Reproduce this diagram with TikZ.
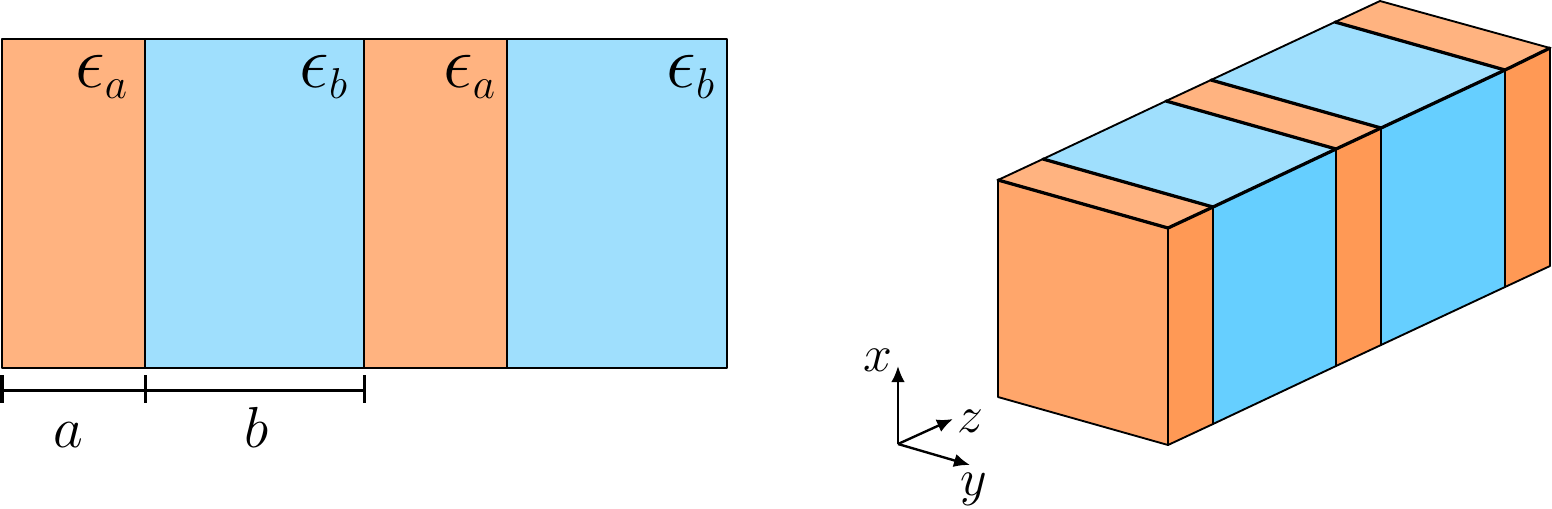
\documentclass[tikz,border=0pt]{standalone}
\usetikzlibrary{arrows.meta}
\DeclareMathSizes{24.88}{24.88}{14.4}{12}
\definecolor{orTop}{HTML}{FFB380}
\definecolor{orFront}{HTML}{FFA66B}
\definecolor{orSide}{HTML}{FF9955}
\definecolor{blTop}{HTML}{9FDFFD}
\definecolor{blSide}{HTML}{66CFFF}
\tikzset{
  cell/.style={draw=black,line width=1pt,line join=round},
  edge3d/.style={draw=black,line width=0.75pt,line join=round},
  cross3d/.style={draw=black,line width=1.3pt,line cap=round},
  dimline/.style={draw=black,line width=1.2pt},
  axis/.style={draw=black,line width=0.95pt,-{Latex[length=6.4pt,width=5.4pt]}},
  biglabel/.style={font=\Huge,anchor=base,inner sep=0pt,scale=0.93},
  permlabel/.style={font=\Huge,anchor=base,inner sep=0pt,scale=1.2},
  axlabel/.style={font=\huge,anchor=base,inner sep=0pt}
}
\begin{document}
\begin{tikzpicture}[x=0.4pt,y=-0.4pt]
\useasboundingbox (0,0) rectangle (1552,508);
% left panel
\fill[orTop] (2,39) rectangle (145,368);
\fill[blTop] (145,39) rectangle (364,368);
\fill[orTop] (364,39) rectangle (507,368);
\fill[blTop] (507,39) rectangle (727,368);
\draw[cell] (2,39) rectangle (727,368);
\draw[cell] (145,39) -- (145,368);
\draw[cell] (364,39) -- (364,368);
\draw[cell] (507,39) -- (507,368);
\node[permlabel] (ea1) at (102,87) {$\epsilon_a$};
\node[permlabel] (eb1) at (324,87) {$\epsilon_b$};
\node[permlabel] (ea2) at (470,87) {$\epsilon_a$};
\node[permlabel] (eb2) at (691,87) {$\epsilon_b$};
% dimension lines
\coordinate (d0) at (2,390);
\coordinate (d1) at (145,390);
\coordinate (d2) at (364,390);
\draw[dimline] (d0) -- (d1) -- (d2);
\draw[dimline] (2,375) -- (2,403);
\draw[dimline] (145,375) -- (145,403);
\draw[dimline] (364,375) -- (364,403);
\node[biglabel] (la) at (68,447) {$a$};
\node[biglabel] (lb) at (257,447) {$b$};
% 3D block: top face
\filldraw[fill=orTop,edge3d] (998,180) -- (1168,228) -- (1213,207) -- (1043,159) -- cycle;
\filldraw[fill=blTop,edge3d] (1043,159) -- (1213,207) -- (1336,149) -- (1166,101) -- cycle;
\filldraw[fill=orTop,edge3d] (1166,101) -- (1336,149) -- (1381,128) -- (1211,80) -- cycle;
\filldraw[fill=blTop,edge3d] (1211,80) -- (1381,128) -- (1505,70) -- (1335,22) -- cycle;
\filldraw[fill=orTop,edge3d] (1335,22) -- (1505,70) -- (1550,48) -- (1380,1) -- cycle;
% front face
\filldraw[fill=orFront,edge3d] (998,180) -- (1168,228) -- (1168,445) -- (998,397) -- cycle;
% side faces
\filldraw[fill=orSide,edge3d] (1168,228) -- (1213,207) -- (1213,424) -- (1168,445) -- cycle;
\filldraw[fill=blSide,edge3d] (1213,207) -- (1336,149) -- (1336,366) -- (1213,424) -- cycle;
\filldraw[fill=orSide,edge3d] (1336,149) -- (1381,128) -- (1381,345) -- (1336,366) -- cycle;
\filldraw[fill=blSide,edge3d] (1381,128) -- (1505,70) -- (1505,287) -- (1381,345) -- cycle;
\filldraw[fill=orSide,edge3d] (1505,70) -- (1550,48) -- (1550,266) -- (1505,287) -- cycle;
% emphasised edges
\draw[cross3d] (998,180) -- (1168,228);
\draw[cross3d] (1043,159) -- (1213,207);
\draw[cross3d] (1166,101) -- (1336,149);
\draw[cross3d] (1211,80) -- (1381,128);
\draw[cross3d] (1335,22) -- (1505,70);
\draw[cross3d] (1168,228) -- (1213,207) -- (1336,149) -- (1381,128) -- (1505,70) -- (1550,48);
\draw[edge3d,line width=1pt] (1168,228) -- (1168,445);
\draw[edge3d,line width=1pt] (1336,149) -- (1336,366);
\draw[edge3d,line width=1pt] (1505,70) -- (1505,287);
% axes
\coordinate (o) at (898,444);
\coordinate (xt) at (898,366);
\coordinate (zt) at (953,419);
\coordinate (yt) at (970,465);
\draw[axis] (o) -- (xt);
\draw[axis] (o) -- (zt);
\draw[axis] (o) -- (yt);
\node[axlabel] (lx) at (878,371) {$x$};
\node[axlabel] (lz) at (970,432) {$z$};
\node[axlabel] (ly) at (974,495) {$y$};
\end{tikzpicture}
\end{document}
